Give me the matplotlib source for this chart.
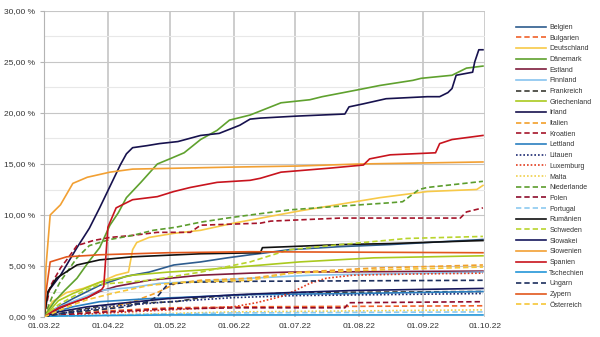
import numpy as np
import matplotlib.pyplot as plt
import matplotlib.dates as mdates
import matplotlib.ticker as mticker

plt.rcParams['font.family'] = ['Liberation Sans', 'DejaVu Sans']

# (days after 01.03.2022, share in %)
belgien = [(0, 0), (7, 1.0), (14, 1.8), (21, 2.5), (27, 3.1), (40, 4.0), (51, 4.4), (63, 5.1), (76, 5.4),
           (89, 5.8), (100, 6.1), (108, 6.3), (119, 6.6), (144, 6.9), (168, 7.1), (213, 7.6)]
bulgarien = [(0, 0), (14, 0.3), (31, 0.6), (61, 0.9), (100, 1.0), (213, 1.1)]
deutschland = [(0, 0), (4, 1.5), (11, 2.4), (19, 2.8), (27, 3.4), (35, 4.1), (41, 4.4), (43, 6.6), (45, 7.3),
               (51, 7.8), (63, 8.2), (76, 8.5), (92, 9.2), (124, 10.4), (148, 11.2), (163, 11.7), (186, 12.3),
               (210, 12.5), (213, 12.9)]
daenemark = [(0, 0), (5, 1.5), (10, 2.6), (16, 3.8), (22, 5.5), (27, 6.8), (32, 9.0), (36, 10.2), (40, 11.7),
             (47, 13.2), (55, 15.0), (61, 15.5), (68, 16.1), (76, 17.4), (84, 18.3), (90, 19.3), (100, 19.8),
             (115, 21.0), (129, 21.3), (135, 21.6), (153, 22.3), (163, 22.7), (179, 23.2), (183, 23.4),
             (198, 23.7), (205, 24.4), (213, 24.6)]
estland = [(0, 0), (7, 0.8), (14, 1.4), (21, 1.9), (27, 2.5), (35, 3.0), (51, 3.6), (76, 4.1), (100, 4.3),
           (119, 4.4), (213, 4.5)]
finnland = [(0, 0), (5, 0.8), (10, 1.2), (20, 2.0), (27, 2.6), (43, 2.9), (56, 3.3), (76, 3.5), (100, 3.8),
            (130, 4.1), (213, 4.4)]
frankreich = [(0, 0), (14, 0.6), (32, 1.2), (51, 1.4), (64, 1.5), (76, 1.9), (100, 2.2), (124, 2.4), (213, 2.5)]
griechenland = [(0, 0), (7, 1.6), (14, 2.3), (21, 2.9), (27, 3.4), (43, 4.1), (60, 4.4), (76, 4.6), (100, 5.0),
                (124, 5.4), (160, 5.8), (213, 6.0)]
irland = [(0, 0), (2, 2.5), (8, 4.1), (16, 6.8), (22, 8.7), (27, 10.7), (32, 12.8), (37, 14.9), (40, 16.0),
          (43, 16.6), (50, 16.8), (56, 17.0), (65, 17.2), (76, 17.8), (85, 18.0), (95, 18.8), (100, 19.4),
          (105, 19.5), (123, 19.7), (146, 19.9), (148, 20.6), (155, 20.9), (166, 21.4), (186, 21.6),
          (192, 21.6), (196, 22.0), (198, 22.4), (200, 23.7), (208, 24.0), (209, 25.0), (211, 26.2), (213, 26.2)]
italien = [(0, 0), (14, 0.4), (31, 0.8), (43, 1.5), (55, 2.4), (64, 3.3), (76, 3.6), (100, 3.8), (124, 4.4),
           (160, 4.8), (213, 5.1)]
kroatien = [(0, 0), (3, 3.0), (8, 4.8), (11, 5.6), (16, 7.0), (24, 7.5), (32, 7.8), (43, 8.0), (55, 8.3),
            (71, 8.3), (76, 9.0), (105, 9.2), (110, 9.4), (144, 9.7), (202, 9.7), (205, 10.3), (213, 10.7)]
lettland = [(0, 0), (7, 0.6), (14, 1.0), (27, 1.5), (51, 1.8), (76, 2.0), (100, 2.2), (150, 2.3), (213, 2.5)]
litauen = [(0, 0), (10, 0.4), (31, 1.0), (61, 1.5), (92, 1.9), (122, 2.1), (213, 2.3)]
luxemburg = [(0, 0), (31, 0.4), (61, 0.7), (92, 1.0), (103, 1.4), (115, 2.0), (122, 2.6), (129, 3.3),
             (137, 3.8), (150, 4.1), (175, 4.2), (213, 4.3)]
malta = [(0, 0), (31, 0.2), (92, 0.5), (213, 0.7)]
niederlande = [(0, 0), (4, 2.0), (8, 3.5), (16, 5.8), (22, 7.0), (32, 7.6), (43, 8.0), (53, 8.5), (64, 8.8),
               (76, 9.3), (89, 9.7), (100, 10.0), (119, 10.5), (139, 10.8), (168, 11.2), (174, 11.3),
               (182, 12.5), (186, 12.7), (213, 13.3)]
polen = [(0, 0), (14, 0.3), (31, 0.5), (61, 0.8), (95, 0.9), (146, 0.9), (148, 1.4), (213, 1.5)]
portugal = [(0, 0), (31, 0.2), (92, 0.4), (213, 0.5)]
rumaenien = [(0, 0), (2, 2.5), (6, 3.8), (16, 5.1), (27, 5.6), (43, 5.9), (76, 6.2), (105, 6.3), (106, 6.8),
             (119, 6.9), (144, 7.1), (168, 7.2), (213, 7.5)]
schweden = [(0, 0), (7, 1.2), (14, 2.0), (21, 2.7), (27, 3.2), (51, 3.6), (76, 4.4), (100, 5.4), (119, 6.6),
            (129, 6.8), (144, 7.1), (160, 7.4), (176, 7.7), (213, 7.9)]
slowakei = [(0, 0), (7, 0.5), (21, 1.0), (40, 1.4), (60, 1.8), (95, 2.2), (120, 2.4), (150, 2.6), (213, 2.8)]
slowenien = [(0, 0), (1, 5.0), (3, 10.0), (8, 11.0), (14, 13.1), (21, 13.7), (32, 14.2), (43, 14.5),
             (92, 14.7), (123, 14.8), (153, 15.0), (213, 15.2)]
spanien = [(0, 0), (7, 0.9), (14, 1.4), (21, 1.9), (28, 2.7), (29, 3.0), (31, 8.8), (35, 10.7), (43, 11.5),
           (55, 11.8), (63, 12.3), (71, 12.7), (84, 13.2), (100, 13.4), (105, 13.6), (115, 14.2), (139, 14.6),
           (155, 14.9), (158, 15.5), (168, 15.9), (190, 16.1), (192, 17.0), (198, 17.4), (213, 17.8)]
tschechien = [(0, 0), (7, 0.1), (60, 0.2), (213, 0.2)]
ungarn = [(0, 0), (7, 0.3), (21, 0.6), (40, 1.0), (50, 1.5), (55, 2.0), (60, 3.2), (70, 3.4), (100, 3.5),
          (213, 3.6)]
zypern = [(0, 0), (1, 2.5), (3, 5.4), (11, 5.9), (27, 6.1), (60, 6.3), (100, 6.4), (213, 6.3)]
oesterreich = [(0, 0), (7, 0.6), (14, 1.2), (21, 1.7), (35, 2.4), (51, 3.1), (67, 3.4), (100, 3.6),
               (119, 4.3), (160, 4.6), (213, 4.9)]

series = [
    ('Belgien', belgien, '#2e5c8e', '-'),
    ('Bulgarien', bulgarien, '#f0612a', '--'),
    ('Deutschland', deutschland, '#f7c948', '-'),
    ('Dänemark', daenemark, '#5fa12e', '-'),
    ('Estland', estland, '#7e1c3c', '-'),
    ('Finnland', finnland, '#88c4ef', '-'),
    ('Frankreich', frankreich, '#3b3b33', '--'),
    ('Griechenland', griechenland, '#aac91f', '-'),
    ('Irland', irland, '#17124e', '-'),
    ('Italien', italien, '#f2a02a', '--'),
    ('Kroatien', kroatien, '#a5142a', '--'),
    ('Lettland', lettland, '#2a7fc0', '-'),
    ('Litauen', litauen, '#1c2a72', ':'),
    ('Luxemburg', luxemburg, '#e23c1e', ':'),
    ('Malta', malta, '#f0d04a', ':'),
    ('Niederlande', niederlande, '#5c9d2e', '--'),
    ('Polen', polen, '#8e0c2c', '--'),
    ('Portugal', portugal, '#8ccaf0', '--'),
    ('Rumänien', rumaenien, '#111111', '-'),
    ('Schweden', schweden, '#b9d42c', '--'),
    ('Slowakei', slowakei, '#16185c', '-'),
    ('Slowenien', slowenien, '#f2a033', '-'),
    ('Spanien', spanien, '#c8141e', '-'),
    ('Tschechien', tschechien, '#2496d8', '-'),
    ('Ungarn', ungarn, '#1d2f5e', '--'),
    ('Zypern', zypern, '#e2581c', '-'),
    ('Österreich', oesterreich, '#f6c637', '--'),
]

start = np.datetime64('2022-03-01')
dash_styles = {'-': '-', '--': (0, (3.2, 1.8)), ':': (0, (1, 1.2))}


def to_xy(points):
    days, vals = zip(*points)
    return start + np.array(days, dtype='timedelta64[D]'), np.array(vals)


fig = plt.figure(figsize=(6, 3.37), dpi=100)
ax = fig.add_axes([44 / 600, 20 / 337, 441 / 600, 306 / 337])

handles = []
for name, pts, color, ls in series:
    x, y = to_xy(pts)
    line, = ax.plot(x, y, color=color, lw=1.2, ls=dash_styles[ls], label=name)
    handles.append(line)

ax.set_xlim(np.datetime64('2022-03-01'), np.datetime64('2022-10-01'))
ax.set_ylim(0, 30)

ax.xaxis.set_major_locator(mdates.MonthLocator())
ax.xaxis.set_major_formatter(mdates.DateFormatter('%d.%m.%y'))
ax.yaxis.set_major_locator(mticker.MultipleLocator(5))
ax.yaxis.set_minor_locator(mticker.MultipleLocator(2.5))
ax.yaxis.set_major_formatter(mticker.FuncFormatter(lambda v, _: f'{v:.2f} %'.replace('.', ',')))

ax.grid(which='major', axis='y', color='#c6c6c6', lw=0.8)
ax.grid(which='minor', axis='y', color='#e8e8e8', lw=0.8)
ax.grid(which='major', axis='x', color='#c0c0c0', lw=1.1)
ax.set_axisbelow(True)

for side in ['top', 'right', 'bottom']:
    ax.spines[side].set_visible(False)
ax.spines['left'].set_color('#b4b4b4')
ax.tick_params(axis='both', which='major', labelsize=6, colors='#b4b4b4', labelcolor='#333333', length=3)
ax.tick_params(axis='y', which='minor', length=0)
ax.tick_params(axis='x', length=0, pad=4)

fig.legend(handles=handles, loc='upper left', bbox_to_anchor=(516 / 600, 1 - 24 / 337),
           frameon=False, fontsize=5, labelcolor='#333333', handlelength=4.3, handletextpad=0.5,
           labelspacing=0.53, borderaxespad=0, borderpad=0)

fig.savefig('out.png', dpi=100)
